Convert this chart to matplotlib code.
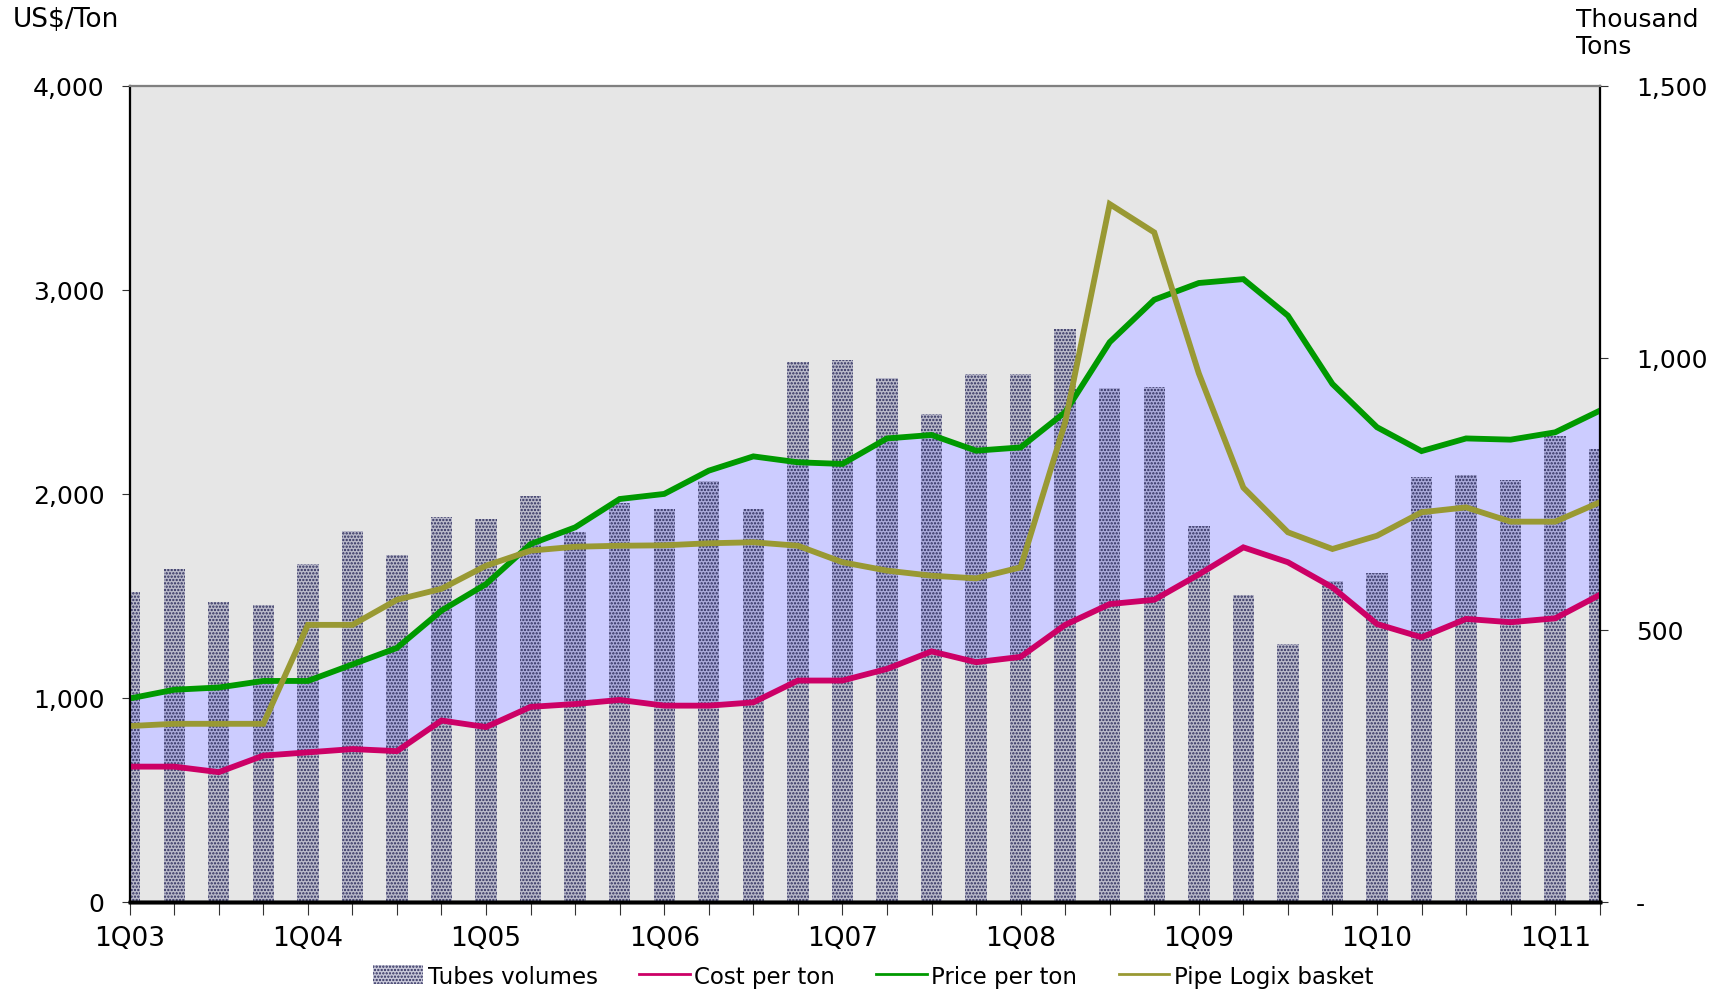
"""
Tubes volumes vs cost / price per ton and the Pipe Logix basket, 1Q03-2Q11.
Left axis: US$/Ton (lines + margin band), right axis: thousand tons (bars).
"""

import numpy as np
import matplotlib
matplotlib.use("Agg")
import matplotlib.pyplot as plt
from matplotlib.lines import Line2D
from matplotlib.patches import Patch


# ── Data ───────────────────────────────────────────────────────────────────────

quarters = [f"{q}Q{y:02d}" for y in range(3, 12) for q in range(1, 5)][:34]

tubes_volumes = [569, 612, 551, 545, 620, 682, 638, 707, 703, 745,
                 680, 733, 722, 774, 722, 992, 996, 963, 897, 971,
                 971, 1053, 945, 946, 691, 563, 474, 590, 605, 780,
                 784, 775, 856, 832]

cost_per_ton = [662, 662, 635, 716, 732, 748, 738, 888, 856, 955,
                969, 989, 961, 961, 977, 1084, 1084, 1141, 1227, 1174,
                1200, 1357, 1459, 1480, 1604, 1737, 1664, 1541, 1361, 1296,
                1386, 1370, 1389, 1504]

price_per_ton = [996, 1039, 1050, 1082, 1082, 1163, 1244, 1427, 1557, 1753,
                 1835, 1974, 1999, 2113, 2183, 2154, 2146, 2271, 2288, 2211,
                 2227, 2400, 2743, 2951, 3033, 3052, 2873, 2538, 2326, 2209,
                 2271, 2265, 2301, 2407]

pipe_logix = [861, 872, 872, 872, 1357, 1357, 1480, 1534, 1647, 1721,
              1740, 1745, 1747, 1757, 1762, 1745, 1664, 1623, 1598, 1585,
              1639, 2350, 3420, 3281, 2590, 2030, 1811, 1729, 1794, 1909,
              1933, 1863, 1863, 1958]

left_ticks = [0, 1000, 2000, 3000, 4000]
right_ticks = [0, 500, 1000, 1500]
right_labels = ["-", "500", "1,000", "1,500"]

# ── Style ──────────────────────────────────────────────────────────────────────

plt.rcParams["font.family"] = "DejaVu Sans"
plt.rcParams["hatch.linewidth"] = 1.1

colors = {
    "cost":  "#CC0066",
    "price": "#009900",
    "pipe":  "#999933",
    "band":  "#CCCCFF",
    "bg":    "#E6E6E6",
    "dots":  "#2A2A5A",
}
bar_face = (0.45, 0.45, 0.62, 0.38)

x = np.arange(len(quarters))

fig = plt.figure(figsize=(17.22, 9.95), dpi=100)
fig.patch.set_facecolor("white")

rect = [0.0753, 0.0928, 0.8537, 0.82]
ax = fig.add_axes(rect)              # US$/Ton scale, margin band
ax.set_facecolor(colors["bg"])
ax_vol = ax.twinx()                  # thousand tons, bars
ax_ln = ax.twinx()                   # US$/Ton scale again, lines on top

# ── Margin band between cost and price ────────────────────────────────────────
ax.fill_between(x, cost_per_ton, price_per_ton, color=colors["band"], lw=0, zorder=1)

# ── Bars ───────────────────────────────────────────────────────────────────────
ax_vol.bar(x, tubes_volumes, width=0.48, facecolor=bar_face,
           edgecolor=colors["dots"], hatch=".....", linewidth=0, zorder=2)

# ── Lines ──────────────────────────────────────────────────────────────────────
for series, key in [(cost_per_ton, "cost"), (price_per_ton, "price"), (pipe_logix, "pipe")]:
    ax_ln.plot(x, series, color=colors[key], lw=4.2, solid_joinstyle="miter")

# ── Axes ───────────────────────────────────────────────────────────────────────
for a in (ax, ax_vol, ax_ln):
    a.set_xlim(0, len(quarters) - 1)

ax.set_ylim(0, 4000)
ax_ln.set_ylim(0, 4000)
ax_vol.set_ylim(0, 1500)

ax.set_yticks(left_ticks)
ax.set_yticklabels([f"{v:,}" for v in left_ticks])
ax.tick_params(axis="y", labelsize=18, length=6, pad=12, color="#333333")

ax.set_xticks(x)
ax.set_xticklabels([q if i % 4 == 0 else "" for i, q in enumerate(quarters)])
ax.tick_params(axis="x", labelsize=19, length=9, pad=8, color="#333333")

ax_vol.set_yticks(right_ticks)
ax_vol.set_yticklabels(right_labels)
ax_vol.tick_params(axis="y", labelsize=18, length=6, pad=20, color="#333333")

ax_ln.set_yticks([])
for a in (ax_vol, ax_ln):
    a.patch.set_visible(False)
    a.tick_params(axis="x", bottom=False, labelbottom=False)

for a in (ax, ax_vol, ax_ln):
    a.spines["top"].set_color("#808080")
    a.spines["top"].set_linewidth(1.5)
    a.spines["left"].set_linewidth(1.5)
    a.spines["right"].set_linewidth(1.5)
    a.spines["bottom"].set_linewidth(2.5)
    a.spines["bottom"].set_color("black")

# ── Axis titles ────────────────────────────────────────────────────────────────
fig.text(0.0076, 0.980, "US$/Ton", fontsize=19, va="center", ha="left")
fig.text(0.915, 0.992, "Thousand\nTons", fontsize=18, va="top", ha="left",
         linespacing=1.15)

# ── Legend ─────────────────────────────────────────────────────────────────────
handles = [
    Patch(facecolor=bar_face, edgecolor=colors["dots"], hatch=".....", linewidth=0),
    Line2D([], [], color=colors["cost"], lw=2),
    Line2D([], [], color=colors["price"], lw=2),
    Line2D([], [], color=colors["pipe"], lw=2),
]
labels = ["Tubes volumes", "Cost per ton", "Price per ton", "Pipe Logix basket"]
fig.legend(handles, labels, loc="center", bbox_to_anchor=(0.507, 0.018), ncol=4,
           frameon=False, fontsize=16.5, handlelength=2.2, handleheight=0.9,
           handletextpad=0.2, columnspacing=1.8)

plt.savefig("out.png", dpi=100, facecolor="white")
plt.close()
